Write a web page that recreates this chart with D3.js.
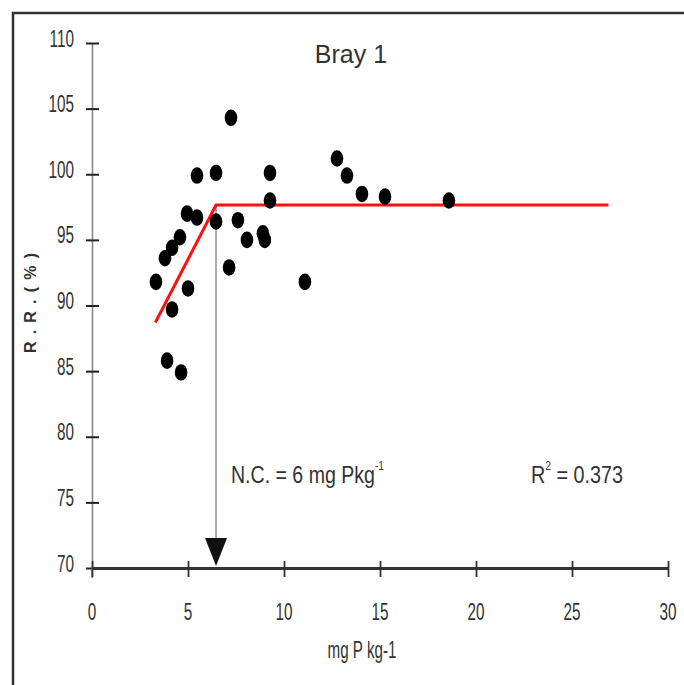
<!DOCTYPE html>
<html><head><meta charset="utf-8">
<script src="https://cdn.jsdelivr.net/npm/d3@7"></script>
<style>html,body{margin:0;padding:0;background:#fff;}svg{display:block;}</style>
</head><body>
<svg id="c" width="684" height="685"></svg>
<script>
// Data
const xValues = [3.33, 3.80, 4.17, 4.58, 4.17, 3.91, 4.64, 4.95, 5.47, 5.00, 5.47, 6.46, 6.46, 7.24, 7.14, 7.60, 8.07, 8.90, 9.00, 9.27, 9.27, 11.09, 12.76, 13.28, 14.06, 15.26, 18.59];
const yValues = [91.8, 93.6, 94.4, 95.2, 89.7, 85.8, 84.9, 97.0, 96.7, 91.3, 99.9, 100.1, 96.4, 104.3, 92.9, 96.5, 95.0, 95.5, 95.0, 100.1, 98.0, 91.8, 101.2, 99.9, 98.5, 98.3, 98.0];
const fitX = [3.3, 6.46, 26.9];
const fitY = [88.7, 97.65, 97.65];
const criticalX = 6.46;
const xTicks = [0, 5, 10, 15, 20, 25, 30];
const yTicks = [70, 75, 80, 85, 90, 95, 100, 105, 110];
const titleText = "Bray 1";
const xTitle = "mg P kg-1";
const yTitle = "R.R.(%)";
const r2Text = "0.373";

const svg = d3.select("#c");
const x = d3.scaleLinear().domain([0, 30]).range([92, 668]);
const y = d3.scaleLinear().domain([70, 110]).range([568, 43]);
const reg = "'Liberation Sans',Arial,sans-serif";

// frame
svg.append("path").attr("d", "M13,685 L13,13 L684,13").attr("fill", "none").attr("stroke", "#333").attr("stroke-width", 2.5);

// y axis
const ya = svg.append("g").attr("transform", `translate(${x(0)},0)`)
  .call(d3.axisLeft(y).tickValues(yTicks).tickSize(0).tickFormat(""));
ya.select(".domain").attr("stroke", "#888").attr("stroke-width", 1.6);
ya.selectAll(".tick").append("line").attr("x1", -6).attr("x2", 7).attr("stroke", "#222").attr("stroke-width", 2);
svg.append("line").attr("x1", x(0)).attr("x2", x(0)).attr("y1", y(70)).attr("y2", y(70) + 10).attr("stroke", "#888").attr("stroke-width", 1.6);

// x axis
const xa = svg.append("g").attr("transform", `translate(0,${y(70)})`)
  .call(d3.axisBottom(x).tickValues(xTicks).tickSize(0).tickFormat(""));
xa.select(".domain").attr("stroke", "#333").attr("stroke-width", 3);
xa.selectAll(".tick").append("line").attr("y1", -7).attr("y2", 9).attr("stroke", "#333").attr("stroke-width", 1.8);

// tick labels (condensed, stretched text)
yTicks.forEach(v => {
  svg.append("g").attr("transform", `translate(74,${y(v) + 3.5}) scale(0.9,1.4)`)
    .append("text").attr("text-anchor", "end").attr("font-family", reg).attr("font-size", 17).attr("fill", "#333").text(v);
});
xTicks.forEach(v => {
  svg.append("g").attr("transform", `translate(${x(v)},620) scale(0.9,1.4)`)
    .append("text").attr("text-anchor", "middle").attr("font-family", reg).attr("font-size", 17).attr("fill", "#333").text(v);
});

// axis titles
svg.append("g").attr("transform", `translate(362,658) scale(0.8,1.3)`)
  .append("text").attr("text-anchor", "middle").attr("font-family", reg).attr("font-size", 19).attr("fill", "#333").text(xTitle);
svg.append("g").attr("transform", `translate(36,303) rotate(-90)`)
  .append("text").attr("text-anchor", "middle").attr("font-family", reg).attr("font-size", 16).attr("font-weight", "bold")
  .attr("fill", "#333").attr("textLength", 100).attr("lengthAdjust", "spacing").attr("x", 0).text(yTitle);

// title
svg.append("text").attr("x", 351).attr("y", 63).attr("text-anchor", "middle").attr("font-family", reg).attr("font-size", 25).attr("fill", "#333").text(titleText);

// critical arrow
svg.append("line").attr("x1", x(criticalX)).attr("x2", x(criticalX)).attr("y1", y(fitY[1])).attr("y2", y(70) - 28)
  .attr("stroke", "#999").attr("stroke-width", 1.6);
svg.append("path").attr("d", `M${x(criticalX) - 11},${y(70) - 30} L${x(criticalX) + 11},${y(70) - 30} L${x(criticalX)},${y(70) - 2} Z`).attr("fill", "#111");

// fit line
svg.append("path").datum(fitX.map((d, i) => [d, fitY[i]]))
  .attr("d", d3.line().x(d => x(d[0])).y(d => y(d[1])))
  .attr("fill", "none").attr("stroke", "#ff1010").attr("stroke-width", 3);

// points
svg.append("g").selectAll("ellipse").data(xValues.map((d, i) => [d, yValues[i]])).join("ellipse")
  .attr("cx", d => x(d[0])).attr("cy", d => y(d[1])).attr("rx", 6.3).attr("ry", 8.3).attr("fill", "#000");

// annotations
const nc = svg.append("g").attr("transform", "translate(231,483) scale(0.85,1.05)")
  .append("text").attr("font-family", reg).attr("font-size", 23).attr("fill", "#333");
nc.append("tspan").text("N.C. = 6 mg Pkg");
nc.append("tspan").attr("font-size", 12).attr("dy", -12).text("-1");
const r2 = svg.append("g").attr("transform", "translate(531,483) scale(0.86,1.05)")
  .append("text").attr("font-family", reg).attr("font-size", 23).attr("fill", "#333");
r2.append("tspan").text("R");
r2.append("tspan").attr("font-size", 12).attr("dy", -12).text("2");
r2.append("tspan").attr("dy", 12).text(" = " + r2Text);
</script>
</body></html>
